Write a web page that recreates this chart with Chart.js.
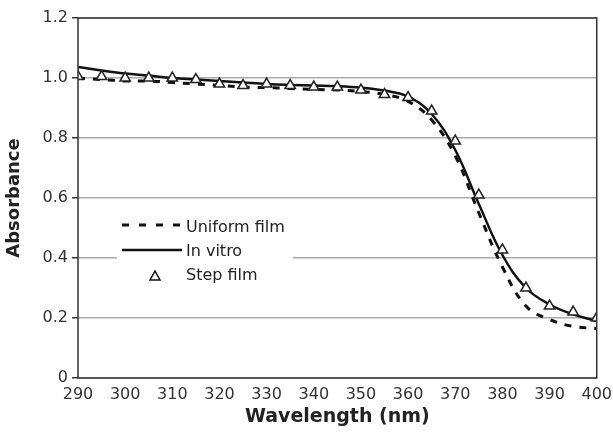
<!DOCTYPE html>
<html>
<head>
<meta charset="utf-8">
<script src="https://cdn.jsdelivr.net/npm/chart.js@4"></script>
<style>
  html, body { margin: 0; padding: 0; background: #fff; }
  #wrap { width: 613px; height: 432px; }
</style>
</head>
<body>
<div id="wrap"><canvas id="c"></canvas></div>
<script>
// wavelengths (nm)
const wavelengths = [290, 295, 300, 305, 310, 315, 320, 325, 330, 335, 340, 345,
  350, 355, 360, 365, 370, 375, 380, 385, 390, 395, 400];

const uniformFilm = [1.0, 0.995, 0.99, 0.99, 0.985, 0.98, 0.975, 0.97, 0.968, 0.965, 0.962, 0.96,
  0.955, 0.945, 0.922, 0.86, 0.74, 0.55, 0.37, 0.24, 0.195, 0.172, 0.165];

const inVitro = [1.037, 1.025, 1.015, 1.008, 1.0, 0.995, 0.99, 0.985, 0.98, 0.977, 0.975, 0.973,
  0.968, 0.958, 0.938, 0.88, 0.76, 0.58, 0.41, 0.30, 0.245, 0.212, 0.19];

const stepFilm = [1.005, 1.005, 1.0, 1.0, 1.0, 0.995, 0.98, 0.975, 0.98, 0.975, 0.97, 0.97,
  0.96, 0.945, 0.935, 0.89, 0.79, 0.61, 0.427, 0.30, 0.24, 0.22, 0.2];

const xTicks = [290, 300, 310, 320, 330, 340, 350, 360, 370, 380, 390, 400];
const yTicks = [0, 0.2, 0.4, 0.6, 0.8, 1, 1.2];

const toXY = (vals) => wavelengths.map((w, i) => ({ x: w, y: vals[i] }));

// box around plot area
const frame = {
  id: 'frame',
  afterDraw(chart) {
    const { ctx, chartArea: a } = chart;
    ctx.save();
    ctx.strokeStyle = '#333';
    ctx.lineWidth = 1.5;
    ctx.strokeRect(a.left, a.top, a.right - a.left, a.bottom - a.top);
    ctx.restore();
  }
};

// legend drawn inside plot
const insideLegend = {
  id: 'insideLegend',
  afterDatasetsDraw(chart) {
    const ctx = chart.ctx;
    ctx.save();
    ctx.fillStyle = '#fff';
    ctx.fillRect(117, 214, 176, 72);
    ctx.strokeStyle = '#111';
    ctx.lineWidth = 3;
    ctx.setLineDash([7, 10]);
    ctx.beginPath(); ctx.moveTo(122, 225); ctx.lineTo(182, 225); ctx.stroke();
    ctx.setLineDash([]);
    ctx.lineWidth = 2.5;
    ctx.beginPath(); ctx.moveTo(122, 250); ctx.lineTo(182, 250); ctx.stroke();
    ctx.lineWidth = 1.5;
    ctx.beginPath();
    ctx.moveTo(155, 271); ctx.lineTo(160, 280); ctx.lineTo(150, 280); ctx.closePath();
    ctx.stroke();
    ctx.fillStyle = '#222';
    ctx.font = '16px "DejaVu Sans"';
    ctx.textBaseline = 'middle';
    ctx.fillText('Uniform film', 186, 228);
    ctx.fillText('In vitro', 186, 252);
    ctx.fillText('Step film', 186, 276);
    ctx.restore();
  }
};

new Chart(document.getElementById('c'), {
  type: 'scatter',
  data: {
    datasets: [
      {
        label: 'Step film',
        data: toXY(stepFilm),
        showLine: false,
        pointStyle: 'triangle',
        pointRadius: 6,
        pointBackgroundColor: '#fff',
        pointBorderColor: '#222',
        pointBorderWidth: 1.5
      },
      {
        label: 'Uniform film',
        data: toXY(uniformFilm),
        showLine: true,
        borderColor: '#111',
        borderWidth: 3,
        borderDash: [7, 8],
        pointRadius: 0,
        tension: 0.4
      },
      {
        label: 'In vitro',
        data: toXY(inVitro),
        showLine: true,
        borderColor: '#111',
        borderWidth: 2.5,
        pointRadius: 0,
        tension: 0.4
      }
    ]
  },
  options: {
    responsive: true,
    maintainAspectRatio: false,
    animation: false,
    layout: { padding: { top: 18, right: 15, left: 0, bottom: 0 } },
    plugins: { legend: { display: false }, tooltip: { enabled: false } },
    scales: {
      x: {
        type: 'linear',
        min: 290, max: 400,
        afterBuildTicks: (s) => { s.ticks = xTicks.map(v => ({ value: v })); },
        afterFit: (s) => { s.height = 54; },
        grid: { display: false, drawTicks: true, tickLength: 6, tickColor: '#333', tickWidth: 1.5 },
        border: { display: false },
        ticks: { color: '#333', font: { family: 'DejaVu Sans', size: 16 }, padding: 1, maxRotation: 0 },
        title: { display: true, text: 'Wavelength (nm)', color: '#222',
          font: { family: 'DejaVu Sans', size: 19, weight: 'bold' }, padding: { top: 0 } }
      },
      y: {
        min: 0, max: 1.2,
        afterBuildTicks: (s) => { s.ticks = yTicks.map(v => ({ value: v })); },
        afterFit: (s) => { s.width = 78; },
        grid: { color: '#aaa', lineWidth: 1.5, tickLength: 6, tickColor: '#333', tickWidth: 1.5 },
        border: { display: false },
        ticks: { color: '#333', font: { family: 'DejaVu Sans', size: 16 }, padding: 4 },
        title: { display: true, text: 'Absorbance', color: '#222',
          font: { family: 'DejaVu Sans', size: 18, weight: 'bold' }, padding: { top: 4, bottom: 2 } }
      }
    }
  },
  plugins: [frame, insideLegend]
});
</script>
</body>
</html>
